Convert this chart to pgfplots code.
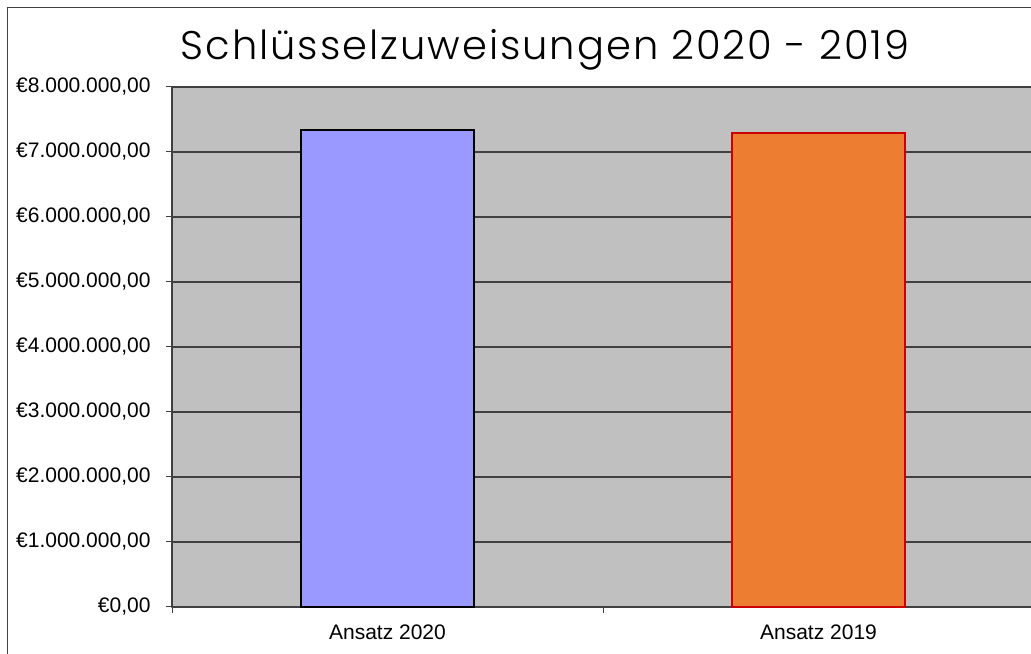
\documentclass[border=0pt]{standalone}
\usepackage{fontspec}
\setmainfont{Liberation Sans}
\newfontfamily\titlefont[LetterSpace=5]{Poppins Light}
\usepackage{pgfplots}
\pgfplotsset{compat=1.18}
\definecolor{plotbg}{HTML}{C0C0C0}
\definecolor{barblue}{HTML}{9999FF}
\definecolor{barorange}{HTML}{ED7D31}
\definecolor{barred}{HTML}{CC0000}
\definecolor{gridc}{HTML}{404040}

\begin{document}
\begin{tikzpicture}[x=1bp,y=1bp]
\useasboundingbox (0,0) rectangle (1031,654);
\clip (0,0) rectangle (1031,654);
% outer chart frame (right and bottom are cut off)
\draw[color=gridc, line width=1bp] (7.5,-5) -- (7.5,646) -- (1040,646);
\node[anchor=base] at (545,594) {\titlefont\fontsize{40bp}{44bp}\selectfont Schlüsselzuweisungen 2020 - 2019};
\begin{axis}[
    at={(172bp,47bp)}, anchor=south west,
    width=862bp, height=520bp, scale only axis,
    xmin=-0.5, xmax=1.5, ymin=0, ymax=8000000,
    ybar, bar width=0.4, bar shift=0pt,
    axis background/.style={fill=plotbg, draw=gray, line width=1.5bp},
    axis lines*=left,
    axis line style={color=gridc, line width=1.2bp},
    ymajorgrids, grid style={color=gridc, line width=1.2bp},
    xtick={0,1}, xticklabels={Ansatz 2020, Ansatz 2019},
    minor xtick={-0.5,0.5,1.5},
    xtick style={draw=none},
    minor x tick style={draw=gridc, line width=0.8bp},
    scaled y ticks=false,
    ytick={0,1000000,2000000,3000000,4000000,5000000,6000000,7000000,8000000},
    yticklabels={{€0,00},{€1.000.000,00},{€2.000.000,00},{€3.000.000,00},{€4.000.000,00},{€5.000.000,00},{€6.000.000,00},{€7.000.000,00},{€8.000.000,00}},
    y tick style={color=gridc, line width=1bp},
    tick align=outside, major tick length=6bp, minor tick length=6bp,
    tick label style={font=\fontsize{21bp}{25bp}\selectfont},
    yticklabel style={anchor=east, xshift=-12bp},
    xticklabel style={yshift=-8bp},
    clip=false,
]
\addplot[fill=barblue, draw=black, line width=2.2bp] coordinates {(0,7340000)};
\addplot[fill=barorange, draw=barred, line width=2.2bp] coordinates {(1,7290000)};
\end{axis}
\end{tikzpicture}
\end{document}
